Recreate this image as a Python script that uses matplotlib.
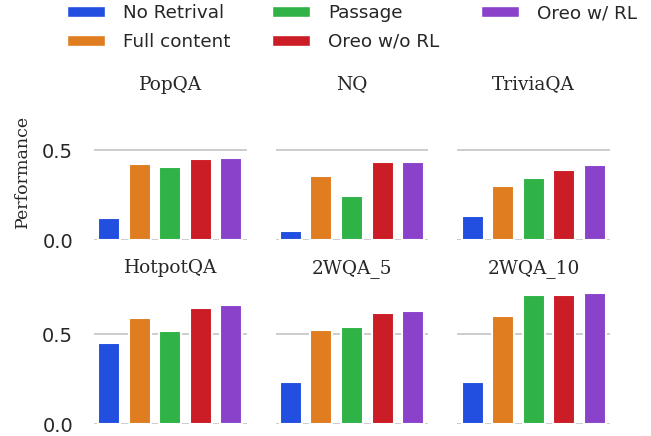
import numpy as np
import matplotlib
matplotlib.use('Agg')
import matplotlib.pyplot as plt
from matplotlib.patches import Patch
from matplotlib.ticker import MultipleLocator

# ── data ──────────────────────────────────────────────────────────────────────
methods  = ['No Retrival', 'Full content', 'Passage', 'Oreo w/o RL', 'Oreo w/ RL']
datasets = ['PopQA', 'NQ', 'TriviaQA', 'HotpotQA', '2WQA_5', '2WQA_10']

popqa    = [0.125, 0.427, 0.410, 0.450, 0.460]
nq       = [0.050, 0.355, 0.248, 0.433, 0.438]
triviaqa = [0.135, 0.304, 0.348, 0.392, 0.421]
hotpotqa = [0.450, 0.590, 0.518, 0.650, 0.666]
wqa5     = [0.232, 0.522, 0.540, 0.617, 0.628]
wqa10    = [0.232, 0.600, 0.717, 0.722, 0.733]

# seaborn "bright" at 0.75 saturation
colors = ['#224fdf', '#df7d20', '#30b346', '#cb1d25', '#8a42cb']

plt.rcParams.update({
    'font.family': 'DejaVu Sans',
    'axes.spines.top': False,
    'axes.spines.right': False,
    'axes.spines.left': False,
    'axes.spines.bottom': False,
})

fig, axes = plt.subplots(2, 3, figsize=(6.51, 4.36), dpi=100, sharey=True)
fig.subplots_adjust(left=0.1444, right=0.937, bottom=0.0275, top=0.766,
                    wspace=0.19, hspace=0.333)

x = np.arange(len(methods))
for ax, name, vals in zip(axes.flat, datasets,
                          [popqa, nq, triviaqa, hotpotqa, wqa5, wqa10]):
    ax.set_axisbelow(True)
    ax.yaxis.grid(True, color='#cccccc', linewidth=1.4)
    ax.bar(x, vals, 0.72, color=colors, edgecolor='white', linewidth=1.5)
    ax.set_xlim(-0.5, len(methods) - 0.5)
    ax.set_ylim(0, 0.77)
    ax.yaxis.set_major_locator(MultipleLocator(0.5))
    ax.set_xticks([])
    ax.tick_params(axis='y', length=0, pad=15, labelsize=14, labelcolor='#262626')
    ax.set_title(name, family='DejaVu Serif', fontsize=13.3, color='#262626', pad=9)

axes[0, 0].set_ylabel('Performance', family='DejaVu Serif', fontsize=12.5,
                      color='#262626', labelpad=8)

handles = [Patch(facecolor=c, edgecolor='white', label=m) for c, m in zip(colors, methods)]
fig.legend(handles=handles, loc='upper left', bbox_to_anchor=(67 / 651, 1 - 4 / 436),
           ncol=3, frameon=False, fontsize=13.2, borderpad=0, borderaxespad=0,
           handlelength=2.08, handleheight=0.6, handletextpad=0.95,
           columnspacing=2.3, labelspacing=0.6, labelcolor='#262626')

fig.savefig('out.png', dpi=100)
